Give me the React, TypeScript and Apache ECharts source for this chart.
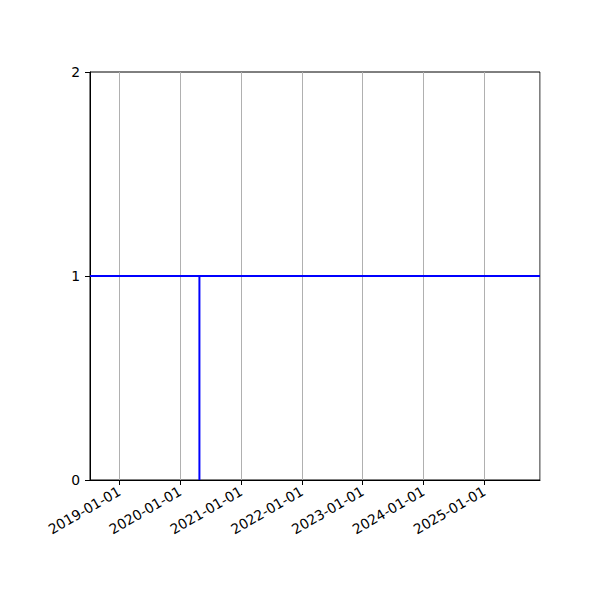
import React, { useEffect, useRef } from "react";
import * as echarts from "echarts";

const xRange = ["2018-07-09", "2025-12-01"];
const horizontalLine = [
  ["2018-07-09", 1],
  ["2025-12-01", 1],
];
const verticalLine = [
  ["2020-04-26", 0],
  ["2020-04-26", 1],
];
const yTicks = [0, 1, 2];

const ts = (d: string) => Date.parse(d + "T00:00:00Z");

export default function App() {
  const ref = useRef<HTMLDivElement>(null);
  useEffect(() => {
    if (!ref.current) return;
    const chart = echarts.init(ref.current, undefined, { renderer: "svg" });
    const font = { fontFamily: "DejaVu Sans", fontSize: 13.9, color: "#000" };
    chart.setOption({
      animation: false,
      useUTC: true,
      backgroundColor: "#fff",
      grid: {
        left: 90,
        right: 60,
        top: 72,
        bottom: 120,
        show: true,
        borderColor: "#000",
        borderWidth: 1,
        backgroundColor: "transparent",
      },
      xAxis: {
        type: "time",
        min: ts(xRange[0]),
        max: ts(xRange[1]),
        minInterval: 365 * 86400000,
        axisLine: { show: true, lineStyle: { color: "#000", width: 1 } },
        axisTick: { show: true, length: 5, lineStyle: { color: "#000", width: 1 } },
        axisLabel: {
          ...font,
          rotate: 30,
          margin: 10,
          showMinLabel: false,
          showMaxLabel: false,
          formatter: "{yyyy}-{MM}-{dd}",
          hideOverlap: false,
        },
        splitLine: { show: true, lineStyle: { color: "#b0b0b0", width: 1 } },
      },
      yAxis: {
        type: "value",
        min: yTicks[0],
        max: yTicks[yTicks.length - 1],
        interval: 1,
        axisLine: { show: true, lineStyle: { color: "#000", width: 1 } },
        axisTick: { show: true, length: 5, lineStyle: { color: "#000", width: 1 } },
        axisLabel: { ...font, margin: 10 },
        splitLine: { show: false },
      },
      series: [
        {
          type: "line",
          data: horizontalLine.map(([d, v]) => [ts(d as string), v]),
          symbol: "none",
          lineStyle: { color: "#0000ff", width: 2 },
        },
        {
          type: "line",
          data: verticalLine.map(([d, v]) => [ts(d as string), v]),
          symbol: "none",
          lineStyle: { color: "#0000ff", width: 2 },
        },
      ],
    });
    return () => chart.dispose();
  }, []);
  return (
    <div
      ref={ref}
      style={{ position: "fixed", left: 0, top: 0, width: 600, height: 600, background: "#fff" }}
    />
  );
}
